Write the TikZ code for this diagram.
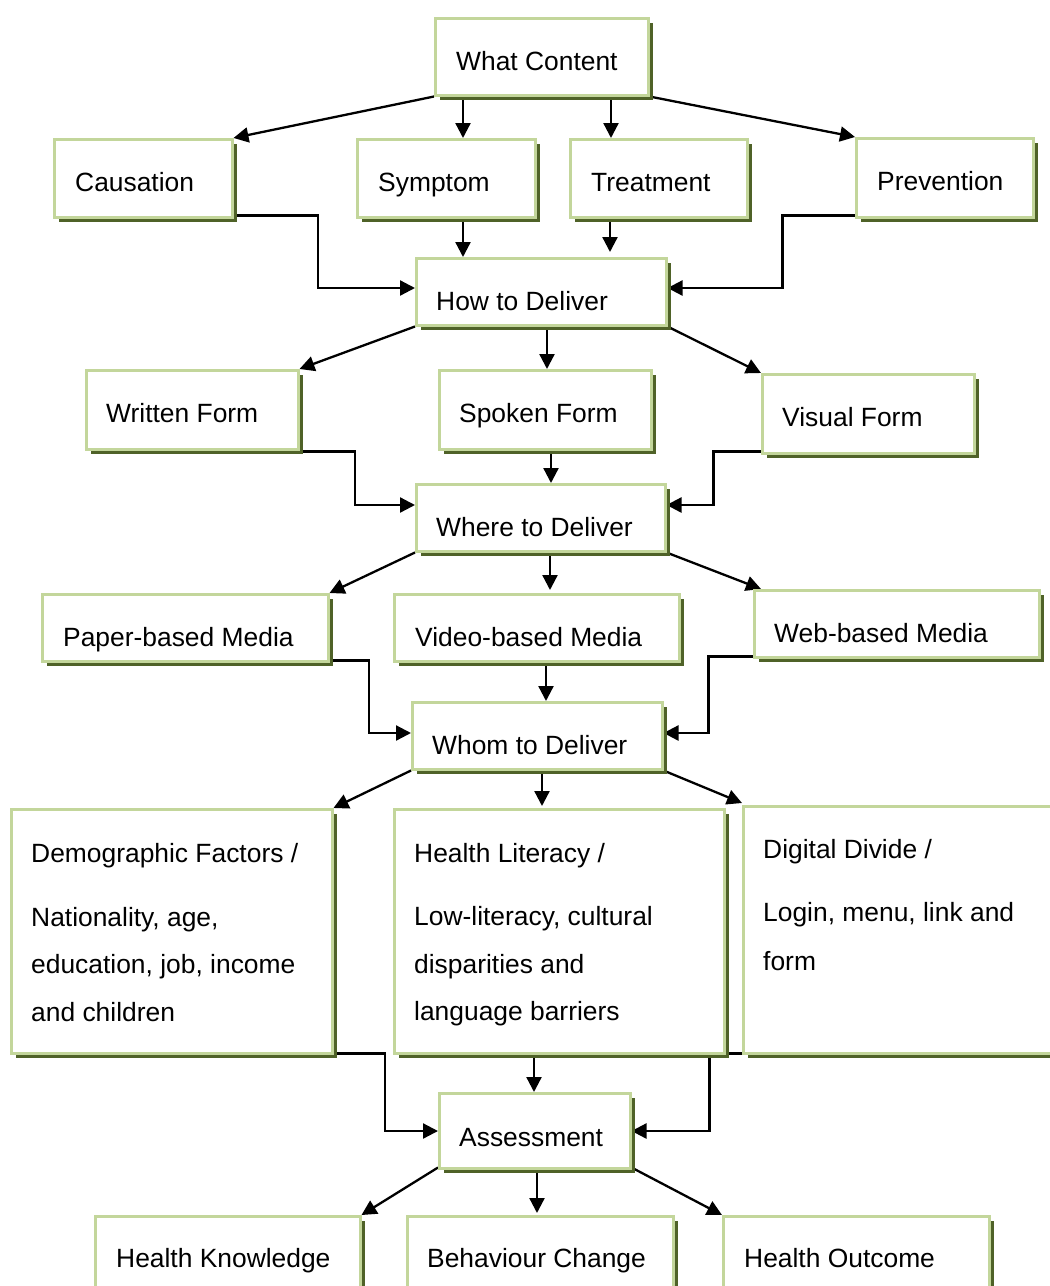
\documentclass[tikz,border=0pt]{standalone}
\usepackage{fontspec}
\setmainfont{Liberation Sans}
\usetikzlibrary{arrows.meta,shadows}
\definecolor{boxgreen}{HTML}{C3D69B}
\definecolor{shadowgreen}{HTML}{4F6228}
\pgfdeclarelayer{paper}
\pgfdeclarelayer{bg}
\pgfsetlayers{paper,bg,main}
\begin{document}
\begin{tikzpicture}[x=1pt,y=-1pt,
  box/.style={rectangle, draw=boxgreen, line width=2.5pt, fill=white, inner sep=0pt,
    anchor=north west,
    general shadow={fill=shadowgreen, shadow xshift=4.5pt, shadow yshift=-4.5pt}},
  txt/.style={font=\fontsize{26.4}{30}\selectfont, inner sep=0pt, anchor=base west},
  arr/.style={line width=2.3pt, -{Triangle[length=15pt,width=15pt]}}]
\useasboundingbox (0,0) rectangle (1050,1286);
\begin{pgfonlayer}{paper}
\fill[white] (0,0) rectangle (1050,1286);
\end{pgfonlayer}

% ---- boxes: name, top-left corner, size ----
\node[box, minimum width=213pt, minimum height=77pt] (wc) at (434,17) {};
\node[box, minimum width=178pt, minimum height=78pt] (caus) at (53,138) {};
\node[box, minimum width=178pt, minimum height=78pt] (sym) at (356,138) {};
\node[box, minimum width=177pt, minimum height=78pt] (treat) at (569,138) {};
\node[box, minimum width=177pt, minimum height=79pt] (prev) at (855,137) {};
\node[box, minimum width=250pt, minimum height=67pt] (how) at (415,257) {};
\node[box, minimum width=212pt, minimum height=79pt] (written) at (85,369) {};
\node[box, minimum width=212pt, minimum height=79pt] (spoken) at (438,369) {};
\node[box, minimum width=212pt, minimum height=79pt] (visual) at (761,373) {};
\node[box, minimum width=249pt, minimum height=67pt] (where) at (415,483) {};
\node[box, minimum width=286pt, minimum height=67pt] (paper) at (41,593) {};
\node[box, minimum width=285pt, minimum height=67pt] (video) at (393,593) {};
\node[box, minimum width=285pt, minimum height=67pt] (web) at (753,589) {};
\node[box, minimum width=250pt, minimum height=67pt] (whom) at (411,701) {};
\node[box, minimum width=321pt, minimum height=244pt] (demo) at (10,808) {};
\node[box, minimum width=330pt, minimum height=244pt] (hl) at (393,808) {};
\node[box, minimum width=330pt, minimum height=247pt] (dd) at (742,805) {};
\node[box, minimum width=191pt, minimum height=75pt] (assess) at (438,1092) {};
\node[box, minimum width=265pt, minimum height=90pt] (hk) at (94,1215) {};
\node[box, minimum width=266pt, minimum height=90pt] (bc) at (406,1215) {};
\node[box, minimum width=266pt, minimum height=90pt] (ho) at (722,1215) {};

% ---- labels ----
\node[txt] (wct) at ([xshift=22pt,yshift=-53pt]wc.north west) {What Content};
\node[txt] (caust) at ([xshift=22pt,yshift=-53pt]caus.north west) {Causation};
\node[txt] (symt) at ([xshift=22pt,yshift=-53pt]sym.north west) {Symptom};
\node[txt] (treatt) at ([xshift=22pt,yshift=-53pt]treat.north west) {Treatment};
\node[txt] (prevt) at ([xshift=22pt,yshift=-53pt]prev.north west) {Prevention};
\node[txt] (howt) at ([xshift=21pt,yshift=-53pt]how.north west) {How to Deliver};
\node[txt] (writtent) at ([xshift=21pt,yshift=-53pt]written.north west) {Written Form};
\node[txt] (spokent) at ([xshift=21pt,yshift=-53pt]spoken.north west) {Spoken Form};
\node[txt] (visualt) at ([xshift=21pt,yshift=-53pt]visual.north west) {Visual Form};
\node[txt] (wheret) at ([xshift=21pt,yshift=-53pt]where.north west) {Where to Deliver};
\node[txt] (papert) at ([xshift=22pt,yshift=-53pt]paper.north west) {Paper-based Media};
\node[txt] (videot) at ([xshift=22pt,yshift=-53pt]video.north west) {Video-based Media};
\node[txt] (webt) at ([xshift=21pt,yshift=-53pt]web.north west) {Web-based Media};
\node[txt] (whomt) at ([xshift=21pt,yshift=-53pt]whom.north west) {Whom to Deliver};
\node[txt] (demo1) at ([xshift=21pt,yshift=-54pt]demo.north west) {Demographic Factors /};
\node[txt] (demo2) at ([xshift=21pt,yshift=-118pt]demo.north west) {Nationality, age,};
\node[txt] (demo3) at ([xshift=21pt,yshift=-165pt]demo.north west) {education, job, income};
\node[txt] (demo4) at ([xshift=21pt,yshift=-213pt]demo.north west) {and children};
\node[txt] (hl1) at ([xshift=21pt,yshift=-54pt]hl.north west) {Health Literacy /};
\node[txt] (hl2) at ([xshift=21pt,yshift=-117pt]hl.north west) {Low-literacy, cultural};
\node[txt] (hl3) at ([xshift=21pt,yshift=-165pt]hl.north west) {disparities and};
\node[txt] (hl4) at ([xshift=21pt,yshift=-212pt]hl.north west) {language barriers};
\node[txt] (dd1) at ([xshift=21pt,yshift=-53pt]dd.north west) {Digital Divide /};
\node[txt] (dd2) at ([xshift=21pt,yshift=-116pt]dd.north west) {Login, menu, link and};
\node[txt] (dd3) at ([xshift=21pt,yshift=-165pt]dd.north west) {form};
\node[txt] (assesst) at ([xshift=21pt,yshift=-54pt]assess.north west) {Assessment};
\node[txt] (hkt) at ([xshift=22pt,yshift=-52pt]hk.north west) {Health Knowledge};
\node[txt] (bct) at ([xshift=21pt,yshift=-52pt]bc.north west) {Behaviour Change};
\node[txt] (hot) at ([xshift=22pt,yshift=-52pt]ho.north west) {Health Outcome};

% ---- connectors (behind the boxes) ----
\begin{pgfonlayer}{bg}
% What Content
\draw[arr] (wc.south west) -- (caus.north east);
\draw[arr] ([xshift=29pt]wc.south west) -- ([xshift=29pt]wc.south west |- sym.north);
\draw[arr] ([xshift=177pt]wc.south west) -- ([xshift=177pt]wc.south west |- treat.north);
\draw[arr] (wc.south east) -- (prev.north west);
% into How to Deliver
\draw[arr] ([yshift=3pt]caus.south east) -| ([xshift=-97pt,yshift=-31pt]how.north west) -- ([yshift=-31pt]how.north west);
\draw[arr] ([xshift=107pt]sym.south west) -- ([xshift=107pt]sym.south west |- how.north);
\draw[arr] ([xshift=41pt]treat.south west) -- ([xshift=41pt,yshift=5pt]treat.south west |- how.north);
\draw[arr] ([yshift=3pt]prev.south west) -| ([xshift=115pt,yshift=-31pt]how.north east) -- ([yshift=-31pt]how.north east);
% How to Deliver
\draw[arr] (how.south west) -- (written.north east);
\draw[arr] ([xshift=132pt]how.south west) -- ([xshift=132pt]how.south west |- spoken.north);
\draw[arr] (how.south east) -- (visual.north west);
% into Where to Deliver
\draw[arr] ([yshift=-1pt]written.south east) -| ([xshift=-60pt,yshift=-22pt]where.north west) -- ([yshift=-22pt]where.north west);
\draw[arr] ([xshift=113pt]spoken.south west) -- ([xshift=113pt]spoken.south west |- where.north);
\draw[arr] ([yshift=3pt]visual.south west) -| ([xshift=47pt,yshift=-22pt]where.north east) -- ([yshift=-22pt]where.north east);
% Where to Deliver
\draw[arr] (where.south west) -- (paper.north east);
\draw[arr] ([xshift=135pt]where.south west) -- ([xshift=135pt,yshift=3pt]where.south west |- video.north);
\draw[arr] (where.south east) -- ([xshift=8pt]web.north west);
% into Whom to Deliver
\draw[arr] ([yshift=2pt]paper.south east) -| ([xshift=-42pt,yshift=-32pt]whom.north west) -- ([yshift=-32pt]whom.north west);
\draw[arr] ([xshift=153pt]video.south west) -- ([xshift=153pt]video.south west |- whom.north);
\draw[arr] ([yshift=2pt]web.south west) -| ([xshift=45pt,yshift=-32pt]whom.north east) -- ([yshift=-32pt]whom.north east);
% Whom to Deliver
\draw[arr] (whom.south west) -- (demo.north east);
\draw[arr] ([xshift=131pt]whom.south west) -- ([xshift=131pt,yshift=2pt]whom.south west |- hl.north);
\draw[arr] (whom.south east) -- ([yshift=2pt]dd.north west);
% into Assessment
\draw[arr] ([yshift=1pt]demo.south east) -| ([xshift=-53pt,yshift=-39pt]assess.north west) -- ([yshift=-39pt]assess.north west);
\draw[arr] ([xshift=141pt]hl.south west) -- ([xshift=141pt]hl.south west |- assess.north);
\draw[arr] ([yshift=1pt]dd.south west) -| ([xshift=78pt,yshift=-39pt]assess.north east) -- ([yshift=-39pt]assess.north east);
% Assessment
\draw[arr] ([yshift=2pt]assess.south west) -- (hk.north east);
\draw[arr] ([xshift=99pt]assess.south west) -- ([xshift=99pt,yshift=2pt]assess.south west |- bc.north);
\draw[arr] ([yshift=2pt]assess.south east) -- (ho.north west);
\end{pgfonlayer}
\end{tikzpicture}
\end{document}
